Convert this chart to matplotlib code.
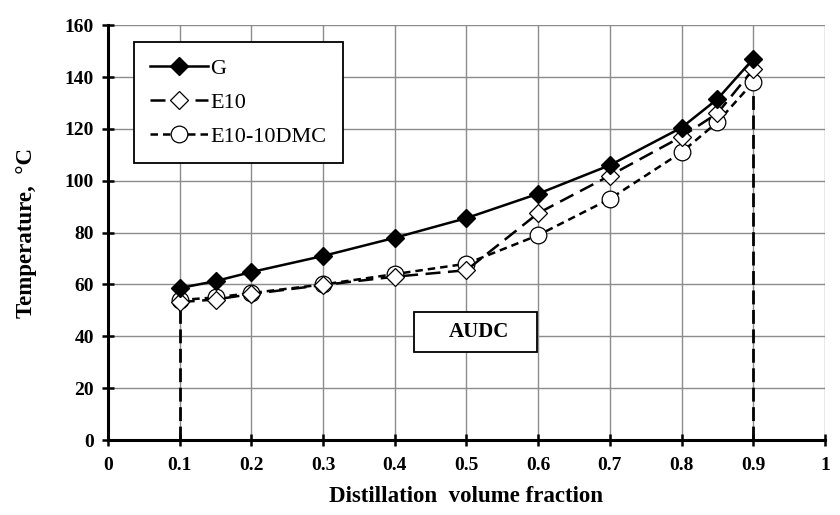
import matplotlib
matplotlib.use("Agg")
import matplotlib.pyplot as plt
from matplotlib.patches import Rectangle

plt.rcParams['font.family'] = ['Liberation Serif', 'DejaVu Serif']

x = [0.1, 0.15, 0.2, 0.3, 0.4, 0.5, 0.6, 0.7, 0.8, 0.85, 0.9]
g = [58.6, 61.3, 64.8, 71, 78, 85.6, 95, 106, 120.5, 131.5, 147]
e10 = [53.2, 54.2, 56.3, 59.8, 63, 65.5, 87.5, 102, 117, 126, 143]
dmc = [54, 55, 56.7, 60, 64, 68, 79, 93, 111, 122.6, 138]
xticks = [0, 0.1, 0.2, 0.3, 0.4, 0.5, 0.6, 0.7, 0.8, 0.9, 1]
xticklabels = ['0', '0.1', '0.2', '0.3', '0.4', '0.5', '0.6', '0.7', '0.8', '0.9', '1']
yticks = [0, 20, 40, 60, 80, 100, 120, 140, 160]

fig = plt.figure(figsize=(8.4, 5.15), dpi=100)
ax = fig.add_axes([0.1286, 0.1456, 0.8534, 0.8054])

ax.set_xlim(0, 1)
ax.set_ylim(0, 160)
ax.set_xticks(xticks)
ax.set_xticklabels(xticklabels)
ax.set_yticks(yticks)
ax.grid(True, color='#8c8c8c', linewidth=1.0)
ax.set_axisbelow(True)
for s in ['top', 'right']:
    ax.spines[s].set_visible(False)
for s in ['left', 'bottom']:
    ax.spines[s].set_linewidth(2.2)
    ax.spines[s].set_color('black')
ax.tick_params(axis='both', direction='inout', length=8, width=1.8,
               labelsize=14)
ax.tick_params(axis='x', pad=8)
ax.tick_params(axis='y', pad=6)
for lbl in ax.get_xticklabels() + ax.get_yticklabels():
    lbl.set_fontweight('bold')

# vertical dashed boundary lines
ax.plot([x[0], x[0]], [0, dmc[0]], color='black', linestyle=(0, (5, 2)),
        linewidth=2.0, zorder=2)
ax.plot([x[-1], x[-1]], [0, dmc[-1]], color='black', linestyle=(0, (5, 2)),
        linewidth=2.0, zorder=2)

ax.plot(x, g, color='black', linewidth=1.8, marker='D', markersize=9,
        markerfacecolor='black', markeredgecolor='black', label='G', zorder=5)
ax.plot(x, e10, color='black', linewidth=1.8, linestyle=(0, (6, 3)),
        marker='D', markersize=9, markerfacecolor='white',
        markeredgecolor='black', markeredgewidth=0.9, label='E10', zorder=4)
ax.plot(x, dmc, color='black', linewidth=1.8, linestyle=(0, (3, 2)),
        marker='o', markersize=12, markerfacecolor='white',
        markeredgecolor='black', markeredgewidth=0.9, label='E10-10DMC', zorder=3)

leg = ax.legend(loc='upper left', bbox_to_anchor=(0.036, 0.96), fancybox=False,
                edgecolor='black', framealpha=1, fontsize=16, handlelength=2.6,
                borderpad=0.75, labelspacing=0.6, handletextpad=0.1,
                borderaxespad=0)
leg.get_frame().set_linewidth(1.3)

ax.add_patch(Rectangle((0.4268, 0.212), 0.171, 0.096, transform=ax.transAxes,
                       facecolor='white', edgecolor='black', linewidth=1.3,
                       zorder=6))
ax.text(0.5175, 0.26, 'AUDC', transform=ax.transAxes, ha='center',
        va='center', fontsize=15, fontweight='bold', zorder=7)

ax.set_xlabel('Distillation  volume fraction', fontsize=16.5, fontweight='bold',
              labelpad=9)
ax.set_ylabel('Temperature,  \u00b0C', fontsize=16.5, fontweight='bold',
              labelpad=20)

fig.savefig('out.png', dpi=100)
